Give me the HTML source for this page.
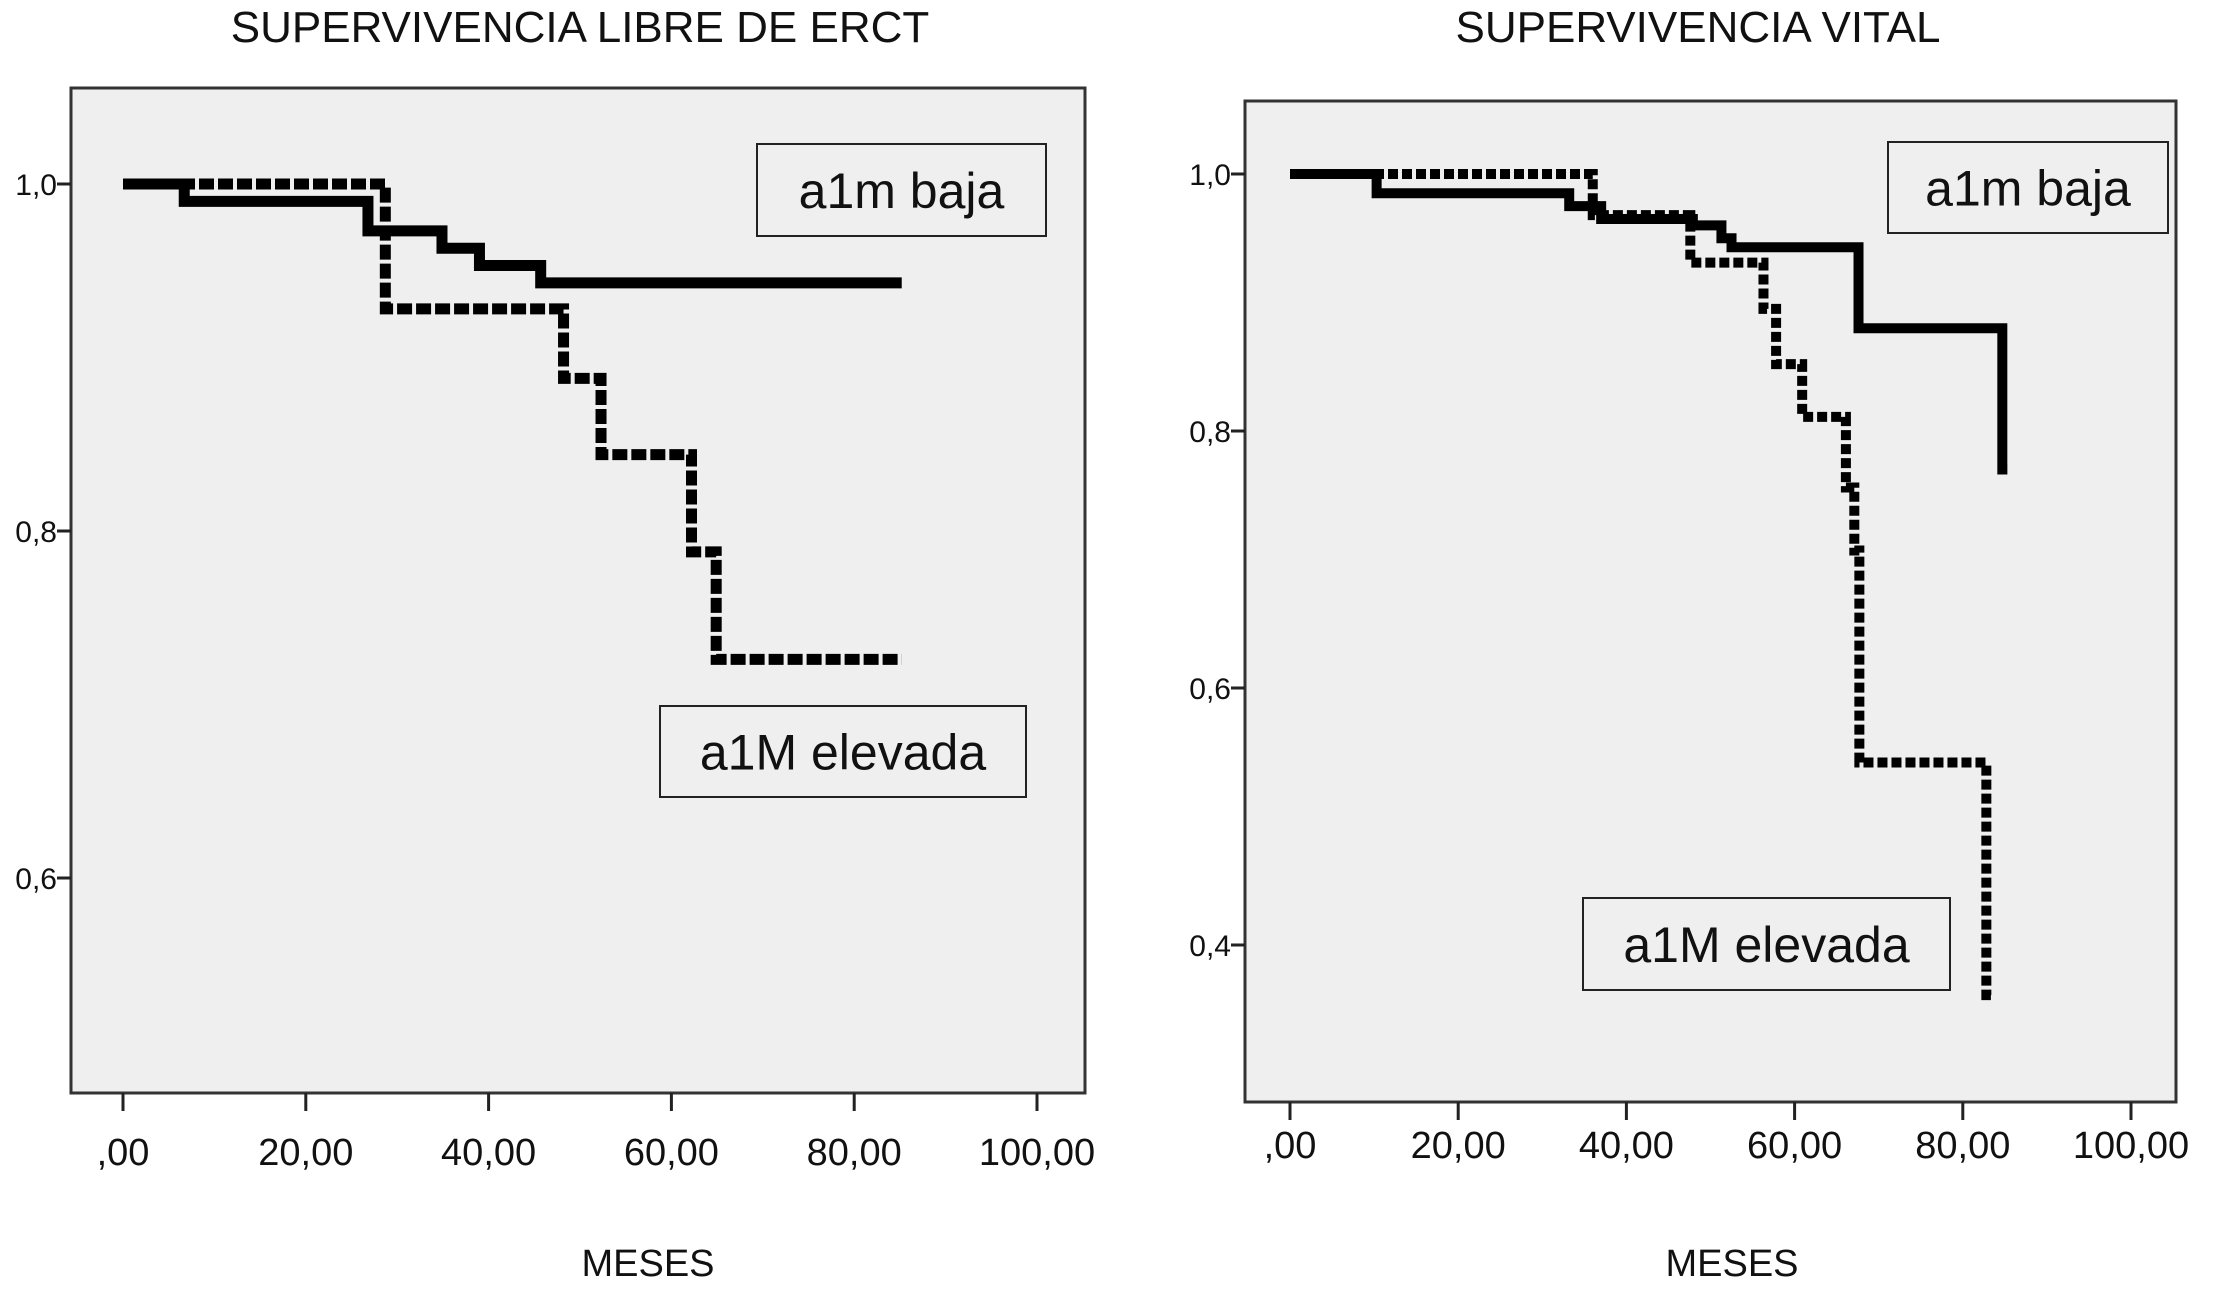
<!DOCTYPE html>
<html><head><meta charset="utf-8"><style>
html,body{margin:0;padding:0;background:#fff;}
svg{display:block;font-family:"Liberation Sans",sans-serif;}
</style></head><body>
<svg id="chart" width="2216" height="1291" viewBox="0 0 2216 1291" xmlns="http://www.w3.org/2000/svg">
<g id="left"></g>
<g id="right"></g>
</svg>
<script>
// Left panel data: SUPERVIVENCIA LIBRE DE ERCT
const leftBajaX = [0, 6.7, 26.8, 34.9, 39, 45.7, 85.2];
const leftBajaY = [1.0, 0.99, 0.973, 0.963, 0.953, 0.943, 0.943];
const leftElevX = [0, 28.7, 48.2, 52.3, 62.2, 64.9, 85.2];
const leftElevY = [1.0, 0.928, 0.888, 0.844, 0.788, 0.726, 0.726];
const leftYTicks = [1.0, 0.8, 0.6];
const leftYLabels = ["1,0", "0,8", "0,6"];
// Right panel data: SUPERVIVENCIA VITAL
const rightBajaX = [0, 10.3, 33.2, 37, 47.9, 51.3, 52.5, 67.6, 84.7, 85.3];
const rightBajaY = [1.0, 0.985, 0.975, 0.965, 0.96, 0.95, 0.943, 0.88, 0.77, 0.77];
const rightElevX = [0, 36, 47.6, 56.3, 57.8, 60.9, 66.1, 67.1, 67.7, 82.8, 83.6];
const rightElevY = [1.0, 0.968, 0.931, 0.895, 0.852, 0.811, 0.756, 0.707, 0.542, 0.361, 0.361];
const rightYTicks = [1.0, 0.8, 0.6, 0.4];
const rightYLabels = ["1,0", "0,8", "0,6", "0,4"];
const xTicks = [0, 20, 40, 60, 80, 100];
const xLabels = [",00", "20,00", "40,00", "60,00", "80,00", "100,00"];

const NS = "http://www.w3.org/2000/svg";
function mk(parent, tag, attrs, text) {
  const e = document.createElementNS(NS, tag);
  for (const k in attrs) e.setAttribute(k, attrs[k]);
  if (text !== undefined) e.textContent = text;
  parent.appendChild(e);
  return e;
}
function stepPath(xs, ys, sx, sy) {
  let d = "M" + sx(xs[0]) + " " + sy(ys[0]);
  for (let i = 1; i < xs.length; i++) {
    d += " H" + sx(xs[i]) + " V" + sy(ys[i]);
  }
  return d;
}
function panel(g, cfg) {
  const sx = v => cfg.x0 + (v - 0) / 100 * (cfg.x100 - cfg.x0);
  const sy = v => cfg.y1 + (1 - v) / 0.2 * cfg.dy;
  let e;
  e = mk(g, "rect", {x: cfg.L, y: cfg.T, width: cfg.R - cfg.L, height: cfg.B - cfg.T, fill: "#efefef", stroke: "#333", "stroke-width": 3});
  
  
  e = mk(g, "text", {x: cfg.titleX, y: 42, "font-size": 44, "text-anchor": "middle", fill: "#111"}, cfg.title);
  
  
  cfg.yTicks.forEach((t, i) => {
    const y = sy(t);
    let l = mk(g, "line", {x1: cfg.L - 14, x2: cfg.L, y1: y, y2: y, stroke: "#222", "stroke-width": 3});
    
    
    let tx = mk(g, "text", {x: cfg.L - 14, y: y + 11, "font-size": 30, "text-anchor": "end", fill: "#111"}, cfg.yLabels[i]);
    
    
  });
  xTicks.forEach((t, i) => {
    const x = sx(t);
    let l = mk(g, "line", {x1: x, x2: x, y1: cfg.B, y2: cfg.B + 18, stroke: "#222", "stroke-width": 3});
    
    
    let tx = mk(g, "text", {x: x, y: cfg.B + cfg.labOff, "font-size": 38, "text-anchor": "middle", fill: "#111"}, xLabels[i]);
    
    
  });
  e = mk(g, "text", {x: cfg.mesesX, y: 1276, "font-size": 38, "text-anchor": "middle", fill: "#111"}, "MESES");
  
  
  e = mk(g, "path", {d: stepPath(cfg.elevX, cfg.elevY, sx, sy), fill: "none", stroke: "#000", "stroke-width": cfg.dw, "stroke-dasharray": cfg.dash});
  
  
  e = mk(g, "path", {d: stepPath(cfg.bajaX, cfg.bajaY, sx, sy), fill: "none", stroke: "#000", "stroke-width": cfg.sw});
  
  
  cfg.boxes.forEach(b => {
    let r = mk(g, "rect", {x: b[0], y: b[1], width: b[2] - b[0], height: b[3] - b[1], fill: "#efefef", stroke: "#222", "stroke-width": 2});
    
    
    let t = mk(g, "text", {x: (b[0] + b[2]) / 2, y: (b[1] + b[3]) / 2 + 18, "font-size": 50, "text-anchor": "middle", fill: "#111"}, b[4]);
    
    
  });
}
panel(document.getElementById("left"), {
  L: 71, R: 1085, T: 88, B: 1093, x0: 123, x100: 1037, y1: 184, dy: 347, labOff: 72,
  title: "SUPERVIVENCIA LIBRE DE ERCT", titleX: 580, mesesX: 648,
  yTicks: leftYTicks, yLabels: leftYLabels,
  bajaX: leftBajaX, bajaY: leftBajaY, elevX: leftElevX, elevY: leftElevY,
  sw: 11, dw: 11, dash: "15 4",
  boxes: [[757, 144, 1046, 236, "a1m baja", "legend-baja"], [660, 706, 1026, 797, "a1M elevada", "legend-elevada"]]
});
panel(document.getElementById("right"), {
  L: 1245, R: 2176, T: 101, B: 1102, x0: 1290, x100: 2131, y1: 174, dy: 257, labOff: 56,
  title: "SUPERVIVENCIA  VITAL", titleX: 1698, mesesX: 1732,
  yTicks: rightYTicks, yLabels: rightYLabels,
  bajaX: rightBajaX, bajaY: rightBajaY, elevX: rightElevX, elevY: rightElevY,
  sw: 10, dw: 10, dash: "10 4",
  boxes: [[1888, 142, 2168, 233, "a1m baja", "legend-baja"], [1583, 898, 1950, 990, "a1M elevada", "legend-elevada"]]
});
</script>
</body></html>
